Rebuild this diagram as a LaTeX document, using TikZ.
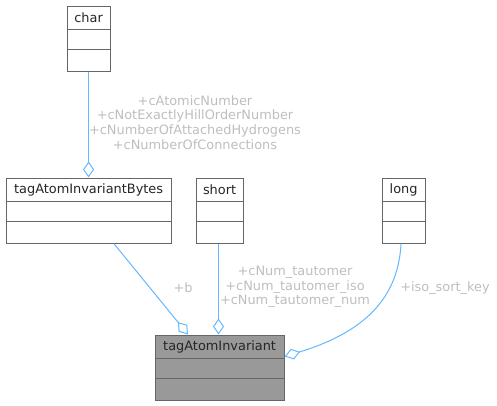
\documentclass[tikz,border=0pt]{standalone}
\usepackage{fontspec}
\setmainfont{DejaVu Sans}
\usetikzlibrary{arrows.meta,calc}
\definecolor{boxline}{HTML}{666666}
\definecolor{edgeblue}{HTML}{63B8FF}
\definecolor{lblgray}{HTML}{BEBEBE}
\definecolor{curfill}{HTML}{999999}
\tikzset{
  classbox/.style={draw=boxline, line width=1.2pt, inner sep=0pt, anchor=north west},
  titletext/.style={font=\fontsize{12.9}{14}\selectfont, text=black!85, inner sep=0pt, anchor=center},
  edgelbl/.style={font=\fontsize{12.9}{14.7}\selectfont, text=lblgray, align=center, inner sep=0pt},
  assoc/.style={draw=edgeblue, line width=1pt, -{Diamond[open, length=16pt, width=11pt, line width=1pt]}}
}
\newcommand{\umlcls}[7]{%
  % name, x, y, width, height, title, fill
  \node[classbox, fill=#7, minimum width=#4pt, minimum height=#5pt] (#1) at (#2,#3) {};
  \draw[boxline, line width=1.2pt] ($(#1.north west)+(0,24)$) -- ($(#1.north east)+(0,24)$);
  \draw[boxline, line width=1.2pt] ($(#1.north west)+(0,44)$) -- ($(#1.north east)+(0,44)$);
  \node[titletext] (#1-t) at ($(#1.north)+(0,12.5)$) {#6};
}
\begin{document}
\begin{tikzpicture}[x=1pt,y=-1pt]
\useasboundingbox (0,0) rectangle (497,405);
\umlcls{char}{66.5}{5.5}{43}{65}{char}{white}
\umlcls{bytes}{5.5}{177.5}{165}{65}{tagAtomInvariantBytes}{white}
\umlcls{short}{195.5}{177.5}{47}{65}{short}{white}
\umlcls{long}{381.5}{177.5}{43}{65}{long}{white}
\umlcls{inv}{154.5}{334.5}{129}{65}{tagAtomInvariant}{curfill}

\coordinate (bytesout) at ($(bytes.south west)+(108.5,0)$);
\coordinate (invin1) at ($(inv.north west)+(33.5,0)$);
\coordinate (invin2) at ($(inv.north west)+(64,0)$);
\coordinate (shortout) at ($(short.south west)+(23,0)$);
\coordinate (longout) at ($(long.south west)+(19.5,0)$);
\coordinate (invin3) at ($(inv.north east)+(0,22)$);

\draw[assoc] (char.south) -- (bytes.north -| char.south);
\draw[assoc] (bytesout) -- (invin1);
\draw[assoc] (shortout) -- (invin2);
\draw[assoc] (longout) .. controls (398,305) and (355,335) .. (invin3);

\node[edgelbl] (l1) at (195,122.5) {+cAtomicNumber\\+cNotExactlyHillOrderNumber\\+cNumberOfAttachedHydrogens\\+cNumberOfConnections};
\node[edgelbl] (l2) at (183,288) {+b};
\node[edgelbl] (l3) at (295,287) {+cNum\_tautomer\\+cNum\_tautomer\_iso\\+cNum\_tautomer\_num};
\node[edgelbl] (l4) at (445,288) {+iso\_sort\_key};
\end{tikzpicture}
\end{document}
